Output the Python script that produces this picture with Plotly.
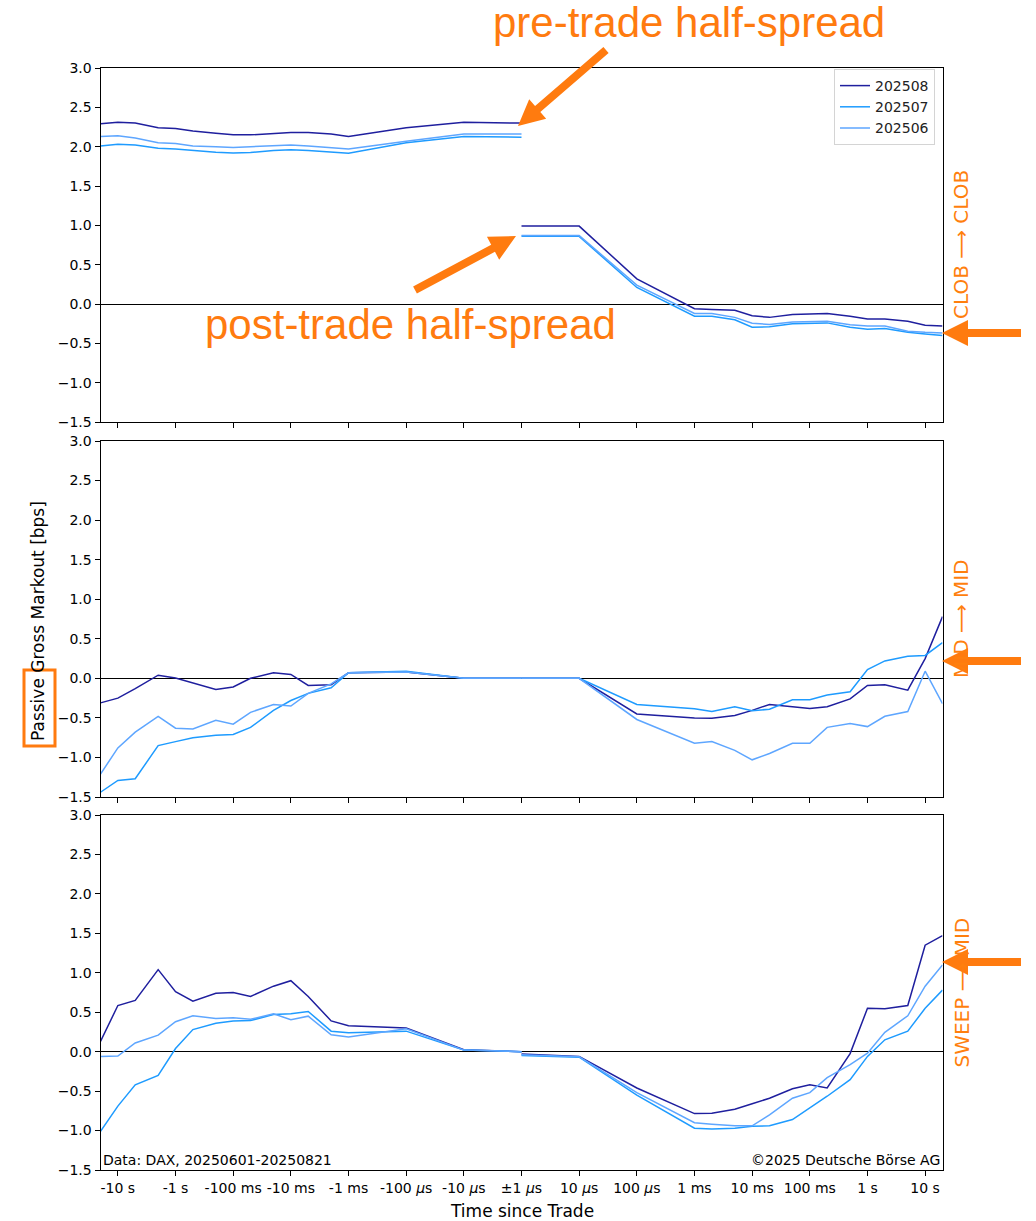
import math
import plotly.graph_objects as go

# ---- data -------------------------------------------------------------
# Sampling times (seconds) before and after the trade
PRE_T = [-20, -10, -5, -2, -1, -0.5, -0.2, -0.1, -0.05, -0.02, -0.01,
         -0.005, -0.002, -0.001, -1e-4, -1e-5, -1e-6]
POST_T = [1e-6, 1e-5, 1e-4, 1e-3, 2e-3, 5e-3, 1e-2, 2e-2, 5e-2, 0.1, 0.2,
          0.5, 1, 2, 5, 10, 20]

MONTHS = ["202508", "202507", "202506"]
COLORS = {"202508": "#1f1f9e", "202507": "#1e9bff", "202506": "#5ea6ff"}

# CLOB -> CLOB
clob_pre = {
    "202508": [2.29, 2.31, 2.30, 2.24, 2.23, 2.20, 2.17, 2.15, 2.15, 2.17, 2.18,
               2.18, 2.16, 2.13, 2.24, 2.31, 2.30],
    "202507": [2.01, 2.03, 2.02, 1.98, 1.97, 1.95, 1.93, 1.92, 1.925, 1.95, 1.96,
               1.95, 1.925, 1.915, 2.05, 2.13, 2.12],
    "202506": [2.13, 2.14, 2.11, 2.05, 2.04, 2.01, 2.00, 1.99, 2.00, 2.01, 2.02,
               2.01, 1.99, 1.97, 2.07, 2.16, 2.16],
}
clob_post = {
    "202508": [0.99, 0.99, 0.32, -0.06, -0.07, -0.08, -0.15, -0.17, -0.135, -0.127,
               -0.12, -0.155, -0.19, -0.19, -0.22, -0.27, -0.28],
    "202507": [0.86, 0.86, 0.21, -0.155, -0.155, -0.20, -0.295, -0.29, -0.25, -0.245,
               -0.24, -0.295, -0.32, -0.31, -0.36, -0.38, -0.40],
    "202506": [0.87, 0.87, 0.24, -0.12, -0.12, -0.17, -0.245, -0.26, -0.23, -0.225,
               -0.22, -0.265, -0.28, -0.28, -0.345, -0.36, -0.37],
}

# MID -> MID
mid_pre = {
    "202508": [-0.31, -0.25, -0.13, 0.04, 0.005, -0.055, -0.14, -0.11, 0.0, 0.07, 0.05,
               -0.09, -0.08, 0.07, 0.08, 0.0, 0.0],
    "202507": [-1.44, -1.29, -1.27, -0.85, -0.80, -0.75, -0.72, -0.71, -0.62, -0.405,
               -0.28, -0.19, -0.12, 0.07, 0.09, 0.0, 0.0],
    "202506": [-1.21, -0.88, -0.68, -0.48, -0.63, -0.64, -0.53, -0.58, -0.43, -0.33,
               -0.35, -0.19, -0.07, 0.07, 0.08, 0.0, 0.0],
}
mid_post = {
    "202508": [0.0, 0.0, -0.45, -0.50, -0.505, -0.47, -0.405, -0.33, -0.36, -0.38,
               -0.36, -0.26, -0.09, -0.08, -0.15, 0.25, 0.78],
    "202507": [0.0, 0.0, -0.33, -0.385, -0.42, -0.36, -0.41, -0.39, -0.27, -0.27,
               -0.21, -0.17, 0.11, 0.22, 0.28, 0.29, 0.45],
    "202506": [0.0, 0.0, -0.52, -0.82, -0.80, -0.91, -1.03, -0.95, -0.82, -0.82,
               -0.62, -0.57, -0.61, -0.48, -0.42, 0.09, -0.32],
}

# SWEEP -> MID
sweep_pre = {
    "202508": [0.13, 0.585, 0.65, 1.04, 0.76, 0.64, 0.74, 0.75, 0.70, 0.83, 0.90,
               0.70, 0.39, 0.33, 0.30, 0.025, 0.0],
    "202507": [-1.01, -0.69, -0.42, -0.30, 0.04, 0.28, 0.36, 0.39, 0.395, 0.47, 0.48,
               0.51, 0.26, 0.24, 0.26, 0.02, 0.0],
    "202506": [-0.06, -0.055, 0.11, 0.21, 0.38, 0.455, 0.42, 0.43, 0.41, 0.48, 0.405,
               0.45, 0.215, 0.185, 0.29, 0.02, 0.0],
}
sweep_post = {
    "202508": [-0.03, -0.06, -0.46, -0.785, -0.78, -0.73, -0.66, -0.59, -0.47, -0.42,
               -0.46, -0.025, 0.55, 0.545, 0.585, 1.35, 1.47],
    "202507": [-0.05, -0.07, -0.55, -0.97, -0.98, -0.97, -0.945, -0.94, -0.86, -0.71,
               -0.565, -0.355, -0.06, 0.15, 0.26, 0.55, 0.78],
    "202506": [-0.04, -0.065, -0.52, -0.90, -0.92, -0.94, -0.94, -0.80, -0.59, -0.52,
               -0.33, -0.165, -0.02, 0.245, 0.455, 0.83, 1.10],
}

TICK_LABELS = ["-10 s", "-1 s", "-100 ms", "-10 ms", "-1 ms", "-100 <i>μ</i>s",
               "-10 <i>μ</i>s", "±1 <i>μ</i>s", "10 <i>μ</i>s", "100 <i>μ</i>s",
               "1 ms", "10 ms", "100 ms", "1 s", "10 s"]
PANEL_LABELS = ["CLOB ⟶ CLOB", "MID ⟶ MID", "SWEEP ⟶ MID"]

# ---- layout helpers ---------------------------------------------------
W, H = 1036, 1221
FONT = "DejaVu Sans"
ORANGE = "#ff7b0f"


def px(x):
    return x / W


def py(y):
    return 1 - y / H


def time_axis(t):
    """Two-sided log time axis: ±1 µs sits in the centre, decades outward."""
    d = math.log10(abs(t) / 1e-6)
    return 7 + d if t > 0 else 7 - d


X_DOMAIN = [px(100.5), px(942.5)]
PANEL_PX = [(68, 422), (441, 797), (815, 1170)]

fig = go.Figure()

panels = [(clob_pre, clob_post), (mid_pre, mid_post), (sweep_pre, sweep_post)]
for i, (pre, post) in enumerate(panels):
    xa = "x" if i == 0 else f"x{i + 1}"
    ya = "y" if i == 0 else f"y{i + 1}"
    for m in MONTHS:
        for seg, (times, vals) in enumerate(((PRE_T, pre[m]), (POST_T, post[m]))):
            fig.add_trace(go.Scatter(
                x=[time_axis(t) for t in times], y=vals, mode="lines",
                name=m, legendgroup=m,
                showlegend=(i == 0 and seg == 0),
                line=dict(color=COLORS[m], width=1.5),
                xaxis=xa, yaxis=ya,
            ))

axis_common = dict(
    showline=True, mirror=True, linecolor="black", linewidth=1,
    ticks="outside", ticklen=5, tickwidth=1, tickcolor="black",
    showgrid=False, automargin=False,
    tickfont=dict(family=FONT, size=14, color="black"),
)

layout = dict(
    width=W, height=H,
    margin=dict(l=0, r=0, t=0, b=0, autoexpand=False),
    paper_bgcolor="white", plot_bgcolor="white",
    font=dict(family=FONT, color="black"),
    legend=dict(
        x=px(935), y=py(69), xanchor="right", yanchor="top",
        bgcolor="white", bordercolor="#d4d4d4", borderwidth=1,
        font=dict(family=FONT, size=14, color="#222"),
        itemwidth=30, tracegroupgap=0,
    ),
    showlegend=True,
)

for i, (top, bottom) in enumerate(PANEL_PX):
    sfx = "" if i == 0 else str(i + 1)
    anchor_y = "y" if i == 0 else f"y{i + 1}"
    anchor_x = "x" if i == 0 else f"x{i + 1}"
    layout["xaxis" + sfx] = dict(
        axis_common, domain=X_DOMAIN, anchor=anchor_y,
        range=[time_axis(PRE_T[0]), time_axis(POST_T[-1])],
        tickmode="array", tickvals=list(range(len(TICK_LABELS))),
        ticktext=TICK_LABELS, showticklabels=(i == 2), zeroline=False,
    )
    layout["yaxis" + sfx] = dict(
        axis_common, domain=[py(bottom), py(top)], anchor=anchor_x,
        range=[-1.5, 3.0], tickmode="array",
        tickvals=[-1.5, -1.0, -0.5, 0.0, 0.5, 1.0, 1.5, 2.0, 2.5, 3.0],
        tickformat=".1f",
        zeroline=True, zerolinecolor="black", zerolinewidth=1.3,
    )

fig.update_layout(**layout)

annotations = []

# Axis titles
annotations.append(dict(
    text="Time since Trade", x=px(521.5), y=py(1211), xref="paper", yref="paper",
    showarrow=False, xanchor="center", yanchor="middle",
    font=dict(family=FONT, size=17, color="black"),
))
annotations.append(dict(
    text="Passive Gross Markout [bps]", x=px(38), y=py(621), xref="paper",
    yref="paper", showarrow=False, textangle=-90, xanchor="center",
    yanchor="middle", font=dict(family=FONT, size=17, color="black"),
))

# Footer notes inside the bottom panel
annotations.append(dict(
    text="Data: DAX, 20250601-20250821", x=px(101), y=py(1160), xref="paper",
    yref="paper", showarrow=False, xanchor="left", yanchor="middle",
    font=dict(family=FONT, size=14, color="black"),
))
annotations.append(dict(
    text="©2025 Deutsche Börse AG", x=px(942), y=py(1160), xref="paper",
    yref="paper", showarrow=False, xanchor="right", yanchor="middle",
    font=dict(family=FONT, size=14, color="black"),
))

# Panel names on the right-hand side
for label, (top, bottom) in zip(PANEL_LABELS, PANEL_PX):
    annotations.append(dict(
        text=label, x=px(961), y=py((top + bottom) / 2), xref="paper",
        yref="paper", showarrow=False, textangle=-90, xanchor="center",
        yanchor="middle", font=dict(family=FONT, size=20, color="#ff7f0e"),
    ))

# Callout texts
annotations.append(dict(
    text="pre-trade half-spread", x=px(689), y=py(23), xref="paper", yref="paper",
    showarrow=False, xanchor="center", yanchor="middle",
    font=dict(family="Liberation Sans", size=42, color=ORANGE),
))
annotations.append(dict(
    text="post-trade half-spread", x=px(410), y=py(325), xref="paper",
    yref="paper", showarrow=False, xanchor="center", yanchor="middle",
    font=dict(family="Liberation Sans", size=42, color=ORANGE),
))

fig.update_layout(annotations=annotations)


def arrow_path(tail, tip, shaft=8, head_len=26, head_half=13):
    """Filled block-arrow outline in paper coordinates."""
    (x0, y0), (x1, y1) = tail, tip
    L = math.hypot(x1 - x0, y1 - y0)
    ux, uy = (x1 - x0) / L, (y1 - y0) / L
    nx, ny = -uy, ux
    bx, by = x1 - ux * head_len, y1 - uy * head_len
    s = shaft / 2
    pts = [
        (x0 + nx * s, y0 + ny * s),
        (bx + nx * s, by + ny * s),
        (bx + nx * head_half, by + ny * head_half),
        (x1, y1),
        (bx - nx * head_half, by - ny * head_half),
        (bx - nx * s, by - ny * s),
        (x0 - nx * s, y0 - ny * s),
    ]
    return "M " + " L ".join(f"{px(x):.5f},{py(y):.5f}" for x, y in pts) + " Z"


shapes = []
arrows = [
    ((606, 50), (518, 126)),
    ((415, 290), (516, 236)),
    ((1021, 333), (942, 333)),
    ((1021, 661), (942, 661)),
    ((1021, 962), (942, 962)),
]
for tail, tip in arrows:
    shapes.append(dict(
        type="path", path=arrow_path(tail, tip), xref="paper", yref="paper",
        fillcolor=ORANGE, line=dict(width=0), layer="above",
    ))

# Highlight box around "Passive"
shapes.append(dict(
    type="rect", x0=px(24), x1=px(55), y0=py(746), y1=py(670),
    xref="paper", yref="paper", line=dict(color=ORANGE, width=3),
    fillcolor="rgba(0,0,0,0)", layer="above",
))

fig.update_layout(shapes=shapes)

fig.write_html("out.html")
